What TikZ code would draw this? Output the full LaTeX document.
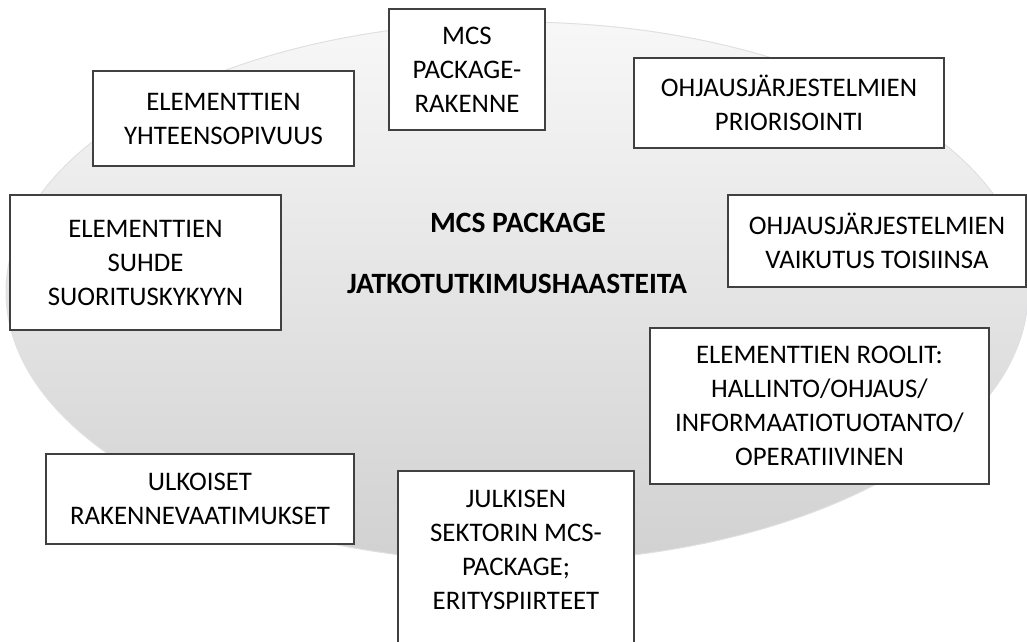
\documentclass[tikz,border=0pt]{standalone}
\usepackage{fontspec}
\setmainfont{Carlito}
\begin{document}
\begin{tikzpicture}[x=1pt,y=-1pt,
  box/.style={draw=black!75,line width=1.5pt,fill=white,inner sep=0pt,align=center,
    font=\fontsize{26.8}{34}\selectfont},
  plain/.style={inner sep=0pt,align=center,font=\fontsize{26.8}{34}\selectfont},
  title/.style={inner sep=0pt,font=\fontsize{29.5}{34}\selectfont\bfseries}]
\useasboundingbox (0,0) rectangle (1027,641);
\clip (0,0) rectangle (1027,641);
\shade[top color=white!97!black,bottom color=white!82!black,draw=blue!10!black!12,line width=1pt]
  (517,292) ellipse [x radius=511,y radius=270];
\node[box,minimum width=156,minimum height=121] (mcs) at (467,69.5) {MCS\\PACKAGE-\\RAKENNE};
\node[box,minimum width=261,minimum height=95] (yht) at (223.5,118.5) {ELEMENTTIEN\\YHTEENSOPIVUUS};
\node[box,minimum width=310,minimum height=90] (prio) at (789,103) {OHJAUSJÄRJESTELMIEN\\PRIORISOINTI};
\node[box,minimum width=271,minimum height=135] (suhde) at (145.5,262.5) {ELEMENTTIEN\\SUHDE\\SUORITUSKYKYYN};
\node[box,minimum width=298,minimum height=92] (vaik) at (877,241) {OHJAUSJÄRJESTELMIEN\\VAIKUTUS TOISIINSA};
\node[box,minimum width=339,minimum height=156] (roolit) at (819.5,406) {ELEMENTTIEN ROOLIT:\\HALLINTO/OHJAUS/\\INFORMAATIOTUOTANTO/\\OPERATIIVINEN};
\node[box,minimum width=308,minimum height=90] (ulk) at (200,499) {ULKOISET\\RAKENNEVAATIMUKSET};
\node[box,minimum width=236,minimum height=200,anchor=north] (julkbox) at (516,470) {};
\node[plain] (julk) at (516,550) {JULKISEN\\SEKTORIN MCS-\\PACKAGE;\\ERITYSPIIRTEET};
\node[title] (t1) at (518,223) {MCS PACKAGE};
\node[title] (t2) at (517,284) {JATKOTUTKIMUSHAASTEITA};
\end{tikzpicture}
\end{document}
